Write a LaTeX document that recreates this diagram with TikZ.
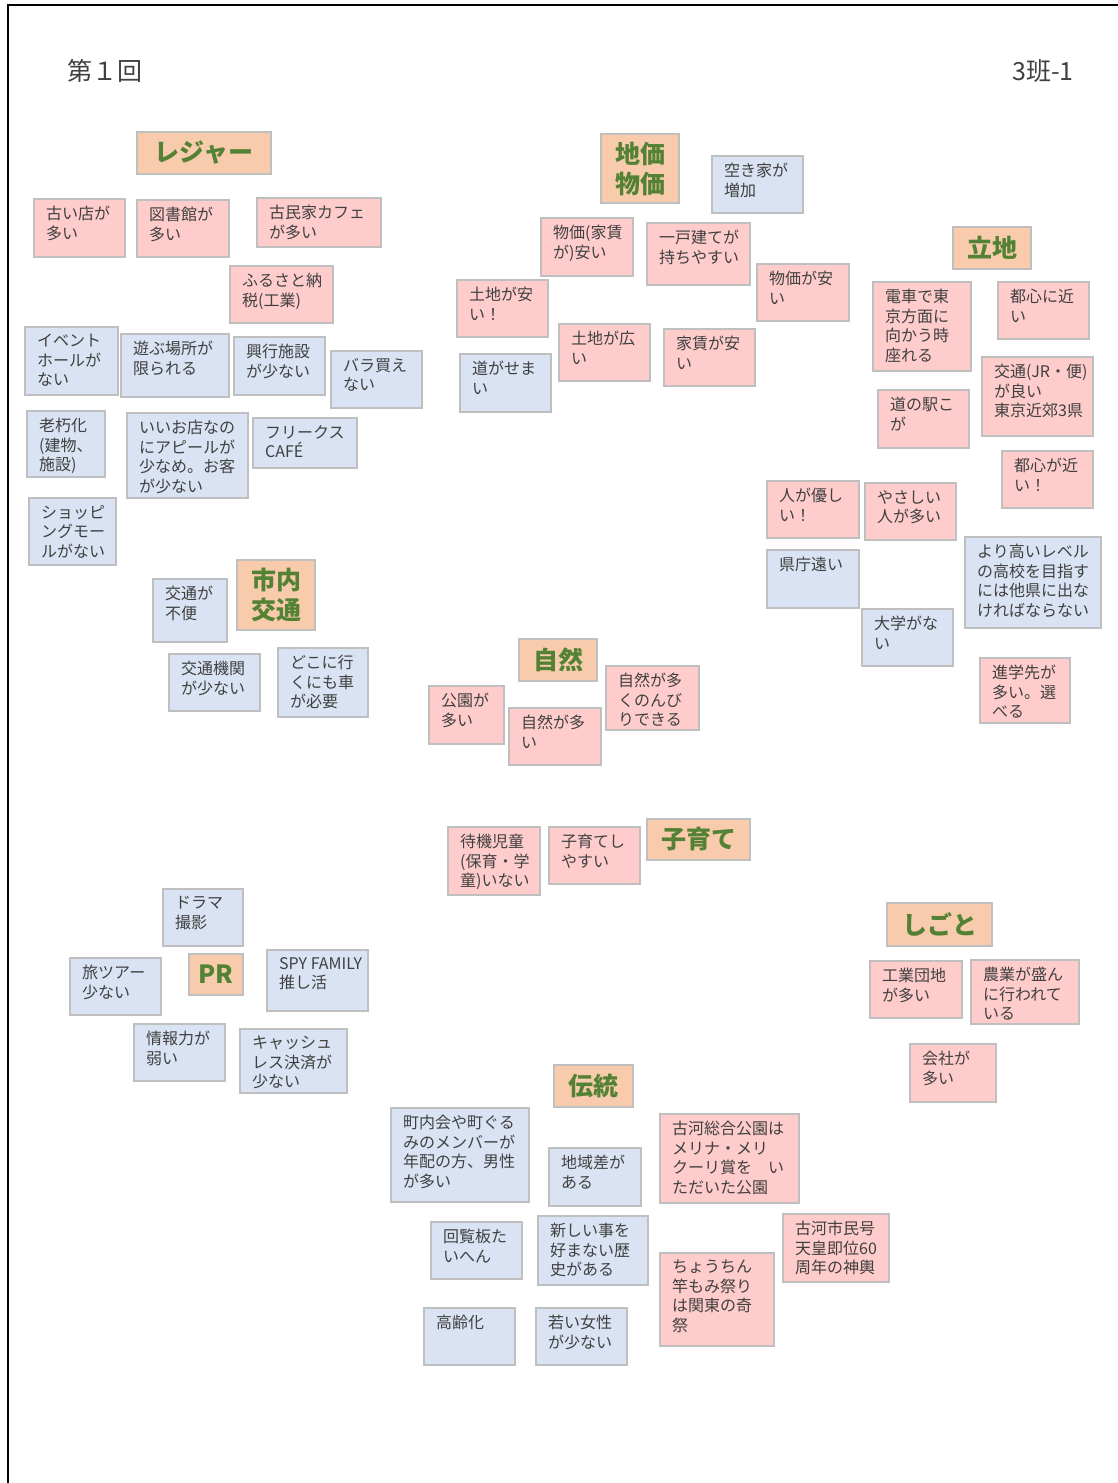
\documentclass[tikz,border=0pt]{standalone}
\usepackage{fontspec}
\newfontfamily\jp{Noto Sans CJK JP}
\definecolor{catfill}{HTML}{F8CBAD}
\definecolor{catgreen}{HTML}{548235}
\definecolor{pinkfill}{HTML}{FFCCCC}
\definecolor{bluefill}{HTML}{DAE3F3}
\definecolor{edgegray}{HTML}{BFBFBF}
\definecolor{txtgray}{HTML}{404040}
\tikzset{
  stickbase/.style={draw=edgegray, line width=1.2pt, inner sep=0pt, outer sep=0pt},
  pinkbox/.style={stickbase, fill=pinkfill},
  bluebox/.style={stickbase, fill=bluefill},
  catbox/.style={stickbase, fill=catfill, text=catgreen, align=center,
    font=\jp\bfseries\fontsize{25}{30}\selectfont},
  stxt/.style={inner sep=0pt, align=left, text=txtgray,
    font=\jp\fontsize{16}{19.5}\selectfont},
  hdr/.style={inner sep=0pt, text=txtgray, font=\jp\fontsize{25}{30}\selectfont},
}
\newcommand\postit[7]{%
  \node[#2, minimum width={#5-#3}, minimum height={#6-#4}, anchor=north west] (#1) at (#3,#4) {};
  \node[stxt, anchor=north west] (#1t) at ([xshift=12pt,yshift=-7pt]#1.north west) {#7};}
\newcommand\catlabel[6]{%
  \node[catbox, minimum width={#4-#2}, minimum height={#5-#3}, anchor=north west] (#1) at (#2,#3) {#6};}
\begin{document}
\begin{tikzpicture}[x=1pt,y=-1pt]
\useasboundingbox (0,0) rectangle (1118,1483);
\draw[line width=2pt] (8,1483) -- (8,5) -- (1118,5);
\node[hdr, anchor=west] (title) at (67,71) {第１回};
\node[hdr, anchor=east] (group) at (1074,71) {3班-1};
% categories
\catlabel{leisure}{137}{132}{271}{174}{レジャー}
\catlabel{price}{601}{134}{679}{203}{地価\\物価}
\catlabel{location}{953}{227}{1031}{269}{立地}
\catlabel{traffic}{237}{560}{315}{630}{市内\\交通}
\catlabel{nature}{519}{639}{597}{681}{自然}
\catlabel{child}{647}{819}{750}{860}{子育て}
\catlabel{work}{887}{903}{992}{946}{しごと}
\catlabel{pr}{189}{954}{243}{995}{PR}
\catlabel{trad}{554}{1065}{633}{1107}{伝統}
% leisure
\postit{l1}{pinkbox}{34}{199}{125}{257}{古い店が\\多い}
\postit{l2}{pinkbox}{137}{200}{229}{257}{図書館が\\多い}
\postit{l3}{pinkbox}{257}{198}{381}{247}{古民家カフェ\\が多い}
\postit{l4}{pinkbox}{230}{266}{333}{323}{ふるさと納\\税(工業)}
\postit{l5}{bluebox}{25}{327}{118}{395}{イベント\\ホールが\\ない}
\postit{l6}{bluebox}{121}{334}{229}{397}{遊ぶ場所が\\限られる}
\postit{l7}{bluebox}{234}{337}{325}{395}{興行施設\\が少ない}
\postit{l8}{bluebox}{331}{351}{422}{408}{バラ買え\\ない}
\postit{l9}{bluebox}{27}{411}{105}{477}{老朽化\\(建物、\\施設)}
\postit{l10}{bluebox}{127}{413}{248}{498}{いいお店なの\\にアピールが\\少なめ。お客\\が少ない}
\postit{l11}{bluebox}{253}{418}{357}{468}{フリークス\\CAFÉ}
\postit{l12}{bluebox}{29}{498}{116}{565}{ショッピ\\ングモー\\ルがない}
% price
\postit{k1}{bluebox}{712}{156}{803}{213}{空き家が\\増加}
\postit{k2}{pinkbox}{541}{218}{633}{276}{物価(家賃\\が)安い}
\postit{k3}{pinkbox}{647}{223}{750}{285}{一戸建てが\\持ちやすい}
\postit{k4}{pinkbox}{757}{264}{849}{321}{物価が安\\い}
\postit{k5}{pinkbox}{457}{280}{548}{337}{土地が安\\い！}
\postit{k6}{pinkbox}{559}{324}{650}{381}{土地が広\\い}
\postit{k7}{pinkbox}{664}{329}{755}{386}{家賃が安\\い}
\postit{k8}{bluebox}{460}{354}{551}{412}{道がせま\\い}
% location
\postit{r1}{pinkbox}{873}{282}{971}{371}{電車で東\\京方面に\\向かう時\\座れる}
\postit{r2}{pinkbox}{998}{282}{1089}{339}{都心に近\\い}
\postit{r3}{pinkbox}{878}{390}{969}{448}{道の駅こ\\が}
\postit{r4}{pinkbox}{982}{357}{1093}{436}{交通(JR・便)\\が良い\\東京近郊3県}
\postit{r5}{pinkbox}{1002}{451}{1093}{508}{都心が近\\い！}
\postit{r6}{pinkbox}{767}{481}{859}{538}{人が優し\\い！}
\postit{r7}{pinkbox}{865}{483}{956}{540}{やさしい\\人が多い}
\postit{r8}{bluebox}{767}{550}{859}{608}{県庁遠い}
\postit{r9}{bluebox}{862}{609}{953}{666}{大学がな\\い}
\postit{r10}{bluebox}{965}{537}{1101}{628}{より高いレベル\\の高校を目指す\\には他県に出な\\ければならない}
\postit{r11}{pinkbox}{980}{658}{1070}{723}{進学先が\\多い。選\\べる}
% traffic
\postit{t1}{bluebox}{153}{579}{227}{642}{交通が\\不便}
\postit{t2}{bluebox}{169}{654}{260}{711}{交通機関\\が少ない}
\postit{t3}{bluebox}{278}{648}{368}{717}{どこに行\\くにも車\\が必要}
% nature
\postit{n1}{pinkbox}{429}{686}{504}{744}{公園が\\多い}
\postit{n2}{pinkbox}{509}{708}{601}{765}{自然が多\\い}
\postit{n3}{pinkbox}{606}{666}{699}{730}{自然が多\\くのんび\\りできる}
% child
\postit{c1}{pinkbox}{448}{827}{540}{895}{待機児童\\(保育・学\\童)いない}
\postit{c2}{pinkbox}{549}{827}{640}{884}{子育てし\\やすい}
% work
\postit{w1}{pinkbox}{870}{961}{962}{1018}{工業団地\\が多い}
\postit{w2}{pinkbox}{971}{960}{1079}{1024}{農業が盛ん\\に行われて\\いる}
\postit{w3}{pinkbox}{910}{1044}{996}{1102}{会社が\\多い}
% PR
\postit{q1}{bluebox}{163}{889}{243}{946}{ドラマ\\撮影}
\postit{q2}{bluebox}{70}{958}{161}{1015}{旅ツアー\\少ない}
\postit{q3}{bluebox}{267}{950}{368}{1011}{SPY FAMILY\\推し活}
\postit{q4}{bluebox}{134}{1024}{225}{1081}{情報力が\\弱い}
\postit{q5}{bluebox}{240}{1029}{347}{1093}{キャッシュ\\レス決済が\\少ない}
% tradition
\postit{d1}{bluebox}{391}{1108}{529}{1202}{町内会や町ぐる\\みのメンバーが\\年配の方、男性\\が多い}
\postit{d2}{bluebox}{549}{1148}{641}{1206}{地域差が\\ある}
\postit{d3}{pinkbox}{660}{1114}{799}{1203}{古河総合公園は\\メリナ・メリ\\クーリ賞を　い\\ただいた公園}
\postit{d4}{bluebox}{431}{1222}{522}{1279}{回覧板た\\いへん}
\postit{d5}{bluebox}{538}{1216}{648}{1285}{新しい事を\\好まない歴\\史がある}
\postit{d6}{pinkbox}{783}{1214}{889}{1282}{古河市民号\\天皇即位60\\周年の神輿}
\postit{d7}{pinkbox}{660}{1253}{774}{1346}{ちょうちん\\竿もみ祭り\\は関東の奇\\祭}
\postit{d8}{bluebox}{424}{1308}{515}{1365}{高齢化}
\postit{d9}{bluebox}{536}{1308}{627}{1365}{若い女性\\が少ない}
\end{tikzpicture}
\end{document}
